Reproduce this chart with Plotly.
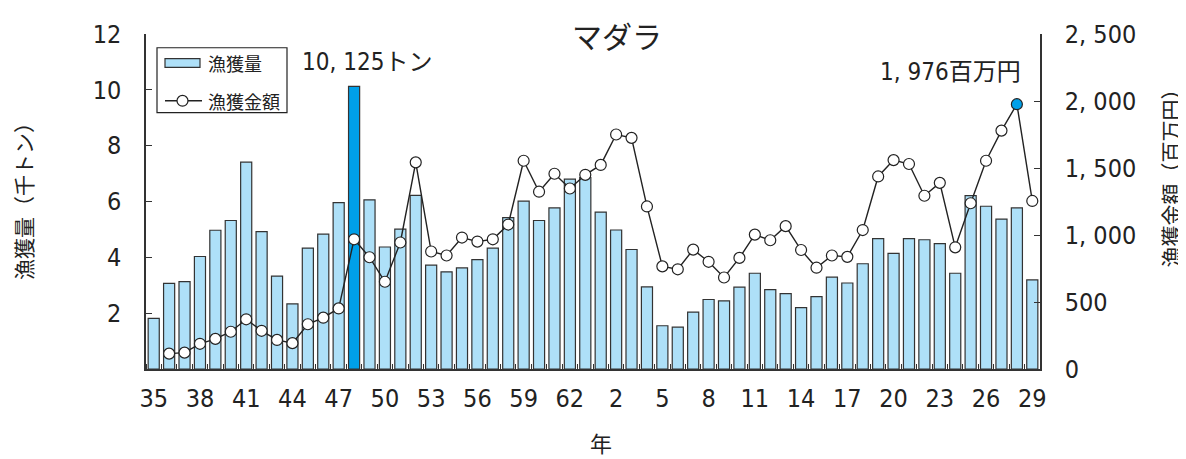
import plotly.graph_objects as go

# ---- data ----
years = [str(y) for y in range(35, 64)] + [str(y) for y in range(1, 30)]
catch_kt = [1.81, 3.07, 3.13, 4.03, 4.97, 5.32, 7.41, 4.92, 3.33, 2.33,
            4.33, 4.83, 5.96, 10.125, 6.06, 4.37, 5.01, 6.22, 3.72, 3.48,
            3.62, 3.92, 4.33, 5.42, 6.01, 5.32, 5.77, 6.80, 6.86, 5.62,
            4.98, 4.28, 2.94, 1.55, 1.50, 2.04, 2.49, 2.44, 2.93, 3.43,
            2.84, 2.70, 2.20, 2.59, 3.29, 3.08, 3.77, 4.67, 4.14, 4.67,
            4.63, 4.49, 3.43, 6.21, 5.83, 5.37, 5.77, 3.19]
value_myen = [None, 115, 122, 188, 225, 278, 371, 285, 217, 193,
              334, 383, 452, 968, 834, 651, 944, 1542, 877, 847,
              981, 951, 968, 1078, 1554, 1323, 1457, 1347, 1449, 1523,
              1750, 1725, 1213, 766, 744, 891, 800, 683, 829, 1003,
              961, 1066, 888, 756, 847, 837, 1037, 1437, 1559, 1530,
              1293, 1389, 908, 1237, 1554, 1779, 1976, 1254]
tick_labels_left = ["2", "4", "6", "8", "10", "12"]
tick_vals_left = [2, 4, 6, 8, 10, 12]
tick_labels_right = ["0", "500", "1, 000", "1, 500", "2, 000", "2, 500"]
tick_vals_right = [0, 500, 1000, 1500, 2000, 2500]

x = list(range(len(years)))
max_catch_i = catch_kt.index(max(catch_kt))
vals_clean = [v if v is not None else -1 for v in value_myen]
max_val_i = vals_clean.index(max(vals_clean))

# ---- style / layout ----
LIGHT = "#aee0f8"
HIGH = "#00a0e9"
EDGE = "#333333"
TXT = "#222222"
NUMFONT = "Liberation Sans Narrow, DejaVu Sans Condensed, Arial Narrow, Liberation Sans, Noto Sans CJK JP, sans-serif"
JP = "Noto Sans CJK JP"

# page body offset (default 8px body margin) compensation
OX, OY = 8, 8
PL, PT, PW, PH = 146, 28, 894, 341          # plot area in page pixels
FIG_W, FIG_H = 1186 - OX, 459 - OY


def px(xp):
    return (xp - PL) / PW


def py(yp):
    return (PT + PH - yp) / PH


bar_colors = [HIGH if i == max_catch_i else LIGHT for i in x]
mk_colors = [HIGH if i == max_val_i else "white" for i in x]

fig = go.Figure()
fig.add_trace(go.Bar(
    x=x, y=catch_kt, name="漁獲量", width=0.72,
    marker=dict(color=bar_colors, line=dict(color=EDGE, width=1.2)),
    yaxis="y", showlegend=False,
))
fig.add_trace(go.Scatter(
    x=x, y=value_myen, name="漁獲金額", mode="lines+markers",
    line=dict(color=TXT, width=1.4),
    marker=dict(size=11, color=mk_colors, line=dict(color=TXT, width=1.2)),
    yaxis="y2", showlegend=False,
))

# custom legend (box + symbols)
shapes = [
    dict(type="rect", xref="paper", yref="paper", x0=px(157), x1=px(287), y0=py(108), y1=py(42),
         line=dict(color=TXT, width=1.2), fillcolor="white", layer="above"),
    dict(type="rect", xref="paper", yref="paper", x0=px(165), x1=px(200), y0=py(62), y1=py(53),
         line=dict(color=EDGE, width=1.2), fillcolor=LIGHT, layer="above"),
    dict(type="line", xref="paper", yref="paper", x0=px(165), x1=px(202), y0=py(96), y1=py(96),
         line=dict(color=TXT, width=1.4), layer="above"),
    dict(type="circle", xref="paper", yref="paper", x0=px(177), x1=px(188), y0=py(101.5), y1=py(90.5),
         line=dict(color=TXT, width=1.2), fillcolor="white", layer="above"),
]

annotations = [
    dict(text="漁獲量", x=px(206), y=py(58), xanchor="left", yanchor="middle",
         font=dict(family=JP, size=18, color=TXT)),
    dict(text="漁獲金額", x=px(206), y=py(96), xanchor="left", yanchor="middle",
         font=dict(family=JP, size=18, color=TXT)),
    dict(text="マダラ", x=px(617), y=py(29), xanchor="center", yanchor="middle",
         font=dict(family=JP, size=30, color=TXT)),
    dict(text="10, 125トン", x=px(300), y=py(56), xanchor="left", yanchor="middle",
         font=dict(family=NUMFONT, size=24, color=TXT)),
    dict(text="1, 976百万円", x=px(1023), y=py(67), xanchor="right", yanchor="middle",
         font=dict(family=NUMFONT, size=24, color=TXT)),
    dict(text="漁獲量（千トン）", x=px(23), y=py(193), xanchor="center", yanchor="middle",
         textangle=-90, font=dict(family=JP, size=21, color=TXT)),
    dict(text="漁獲金額（百万円）", x=px(1170), y=py(170), xanchor="center", yanchor="middle",
         textangle=-90, font=dict(family=JP, size=21, color=TXT)),
    dict(text="年", x=px(601), y=py(443), xanchor="center", yanchor="middle",
         font=dict(family=JP, size=22, color=TXT)),
]
for a in annotations:
    a.update(xref="paper", yref="paper", showarrow=False)

fig.update_layout(
    width=FIG_W, height=FIG_H,
    margin=dict(l=PL - OX, r=FIG_W - (PL - OX) - PW, t=PT - OY, b=FIG_H - (PT - OY) - PH),
    paper_bgcolor="white", plot_bgcolor="white",
    showlegend=False,
    xaxis=dict(
        range=[-0.5, len(years) - 0.5],
        tickmode="array", tickvals=x[::3], ticktext=years[::3],
        ticks="", showline=True, linecolor=EDGE, linewidth=1.5,
        tickfont=dict(family=NUMFONT, size=25, color=TXT),
        minor=dict(ticks="inside", tick0=-0.5, dtick=1, ticklen=5, tickcolor=EDGE),
        showgrid=False, zeroline=False, ticklabelstandoff=6,
    ),
    yaxis=dict(
        range=[0, 12], tickmode="array", tickvals=tick_vals_left, ticktext=tick_labels_left,
        ticks="inside", ticklen=6, tickcolor=EDGE,
        showline=True, linecolor=EDGE, linewidth=1.5,
        tickfont=dict(family=NUMFONT, size=25, color=TXT),
        showgrid=False, zeroline=False, ticklabelstandoff=18,
    ),
    yaxis2=dict(
        range=[0, 2500], overlaying="y", side="right",
        tickmode="array", tickvals=tick_vals_right, ticktext=tick_labels_right,
        ticks="inside", ticklen=6, tickcolor=EDGE,
        showline=True, linecolor=EDGE, linewidth=1.5,
        tickfont=dict(family=NUMFONT, size=25, color=TXT),
        showgrid=False, zeroline=False, ticklabelstandoff=18,
    ),
    shapes=shapes,
    annotations=annotations,
)

fig.write_html("out.html")
